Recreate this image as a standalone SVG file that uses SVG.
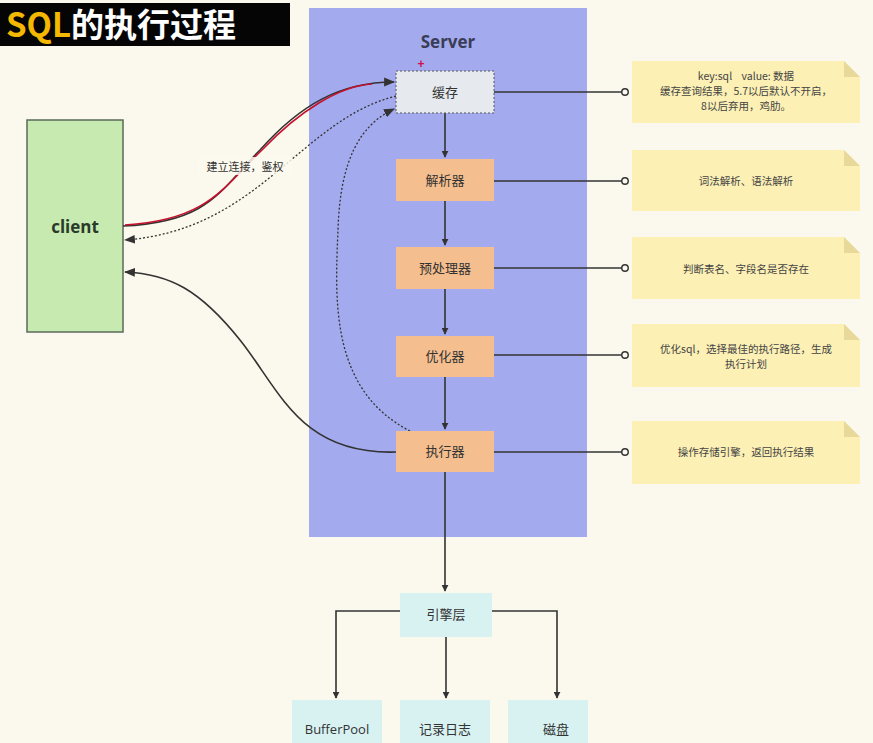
<svg xmlns="http://www.w3.org/2000/svg" width="873" height="743" viewBox="0 0 873 743">
<defs>
<style>
text{font-family:"Noto Sans CJK SC","Liberation Sans",sans-serif;fill:#333;}
.node{fill:#f5be8e;}
.lbl{font-size:13px;text-anchor:middle;}
.note{fill:#fcf0b4;}
.fold{fill:#e8d89a;}
.ntxt{font-size:10.5px;text-anchor:middle;fill:#444;}
.eng{fill:#d8f2f2;}
.ln{fill:none;stroke:#333;stroke-width:1.6;}
.dot{fill:none;stroke:#333;stroke-width:1.3;stroke-dasharray:2 2;}
</style>
<marker id="ah" viewBox="0 0 10 10" refX="9" refY="5" markerWidth="7" markerHeight="7" orient="auto" markerUnits="userSpaceOnUse">
<path d="M0,0 L10,5 L0,10 z" fill="#333"/>
</marker>
<marker id="ah2" viewBox="0 0 10 10" refX="9" refY="5" markerWidth="11" markerHeight="11" orient="auto" markerUnits="userSpaceOnUse">
<path d="M0,1 L10,5 L0,9 z" fill="#333"/>
</marker>
<marker id="oc" viewBox="0 0 10 10" refX="5" refY="5" markerWidth="9" markerHeight="9" markerUnits="userSpaceOnUse">
<circle cx="5" cy="5" r="3.6" fill="#fbf9ed" stroke="#333" stroke-width="1.6"/>
</marker>
</defs>
<rect width="873" height="743" fill="#fbf9ed"/>
<g id="title">
<rect x="0" y="3" width="290" height="43" fill="#050505"/>
<text x="6" y="37" style="font-size:33px;font-weight:bold;fill:#f5b800;font-family:'Noto Sans CJK SC','Liberation Sans',sans-serif">SQL<tspan style="fill:#ffffff">的执行过程</tspan></text>
</g>
<g id="server">
<rect x="309" y="8" width="278" height="529" fill="#a3aaee"/>
<text x="448" y="48" style="font-size:17px;font-weight:bold;text-anchor:middle;fill:#3a3d55;font-family:'Open Sans','Liberation Sans',sans-serif">Server</text>
</g>
<g id="client">
<rect x="27" y="120" width="96" height="212" fill="#c6eab0" stroke="#5a6a5a" stroke-width="1.5"/>
<text x="75" y="233" style="font-size:17px;font-weight:bold;text-anchor:middle;fill:#2a3a2a;font-family:'Open Sans','Liberation Sans',sans-serif">client</text>
</g>
<g id="connectors">
<path class="ln" d="M445,113 V157" marker-end="url(#ah)"/>
<path class="ln" d="M445,201 V245" marker-end="url(#ah)"/>
<path class="ln" d="M445,289 V334" marker-end="url(#ah)"/>
<path class="ln" d="M445,377 V429" marker-end="url(#ah)"/>
<path class="ln" d="M445,472 V591" marker-end="url(#ah)"/>
<path class="ln" d="M400,611 H336 V698" marker-end="url(#ah)"/>
<path class="ln" d="M446,637 V698" marker-end="url(#ah)"/>
<path class="ln" d="M492,611 H557 V698" marker-end="url(#ah)"/>
<path class="ln" d="M494,92 H625" marker-end="url(#oc)"/>
<path class="ln" d="M494,181 H625" marker-end="url(#oc)"/>
<path class="ln" d="M494,268 H625" marker-end="url(#oc)"/>
<path class="ln" d="M494,355 H625" marker-end="url(#oc)"/>
<path class="ln" d="M494,452 H625" marker-end="url(#oc)"/>
<path class="ln" d="M123,226 C210,222 220,190 260,150 C300,105 340,82 394,82" marker-end="url(#ah2)"/>
<path d="M125,225 C210,220 225,185 262,150 C300,110 340,86 372,84" fill="none" stroke="#c8102e" stroke-width="1.6"/>
<path class="dot" d="M396,96 C300,120 260,230 125,240" marker-end="url(#ah2)"/>
<path class="ln" d="M396,452 C300,455 280,390 240,340 C200,290 170,274 125,272" marker-end="url(#ah2)"/>
<path class="dot" d="M410,431 C330,390 335,300 338,230 C340,160 360,125 394,109" marker-end="url(#ah2)"/>
<rect x="198" y="157" width="94" height="18" fill="#fbf9ed" opacity="0.85"/>
<text x="245" y="171" style="font-size:11px;text-anchor:middle">建立连接，鉴权</text>
</g>
<g id="cache">
<rect x="396" y="71" width="98" height="42" fill="#e6eaee" stroke="#555" stroke-width="1" stroke-dasharray="2 2"/>
<text class="lbl" x="445" y="97">缓存</text>
<text x="421" y="68" style="font-size:12px;font-weight:bold;fill:#d0104c;text-anchor:middle;font-family:'Liberation Sans',sans-serif">+</text>
</g>
<g id="parser">
<rect class="node" x="396" y="159" width="98" height="42"/>
<text class="lbl" x="445" y="185">解析器</text>
</g>
<g id="preprocessor">
<rect class="node" x="396" y="247" width="98" height="42"/>
<text class="lbl" x="445" y="273">预处理器</text>
</g>
<g id="optimizer">
<rect class="node" x="396" y="336" width="98" height="41"/>
<text class="lbl" x="445" y="361">优化器</text>
</g>
<g id="executor">
<rect class="node" x="396" y="431" width="98" height="41"/>
<text class="lbl" x="445" y="456">执行器</text>
</g>
<g id="note-cache">
<path class="note" d="M632,61 H844 L860,77 V123 H632 Z"/>
<path class="fold" d="M844,61 L860,77 H844 Z"/>
<text class="ntxt" x="746" y="80">key:sql&#160;&#160;&#160;&#160;value: 数据</text>
<text class="ntxt" x="746" y="95">缓存查询结果，5.7以后默认不开启，</text>
<text class="ntxt" x="746" y="110">8以后弃用，鸡肋。</text>
</g>
<g id="note-parser">
<path class="note" d="M632,150 H844 L860,166 V211 H632 Z"/>
<path class="fold" d="M844,150 L860,166 H844 Z"/>
<text class="ntxt" x="746" y="185">词法解析、语法解析</text>
</g>
<g id="note-preprocessor">
<path class="note" d="M632,237 H844 L860,253 V299 H632 Z"/>
<path class="fold" d="M844,237 L860,253 H844 Z"/>
<text class="ntxt" x="746" y="273">判断表名、字段名是否存在</text>
</g>
<g id="note-optimizer">
<path class="note" d="M632,324 H844 L860,340 V387 H632 Z"/>
<path class="fold" d="M844,324 L860,340 H844 Z"/>
<text class="ntxt" x="746" y="353">优化sql，选择最佳的执行路径，生成</text>
<text class="ntxt" x="746" y="368">执行计划</text>
</g>
<g id="note-executor">
<path class="note" d="M632,421 H844 L860,437 V484 H632 Z"/>
<path class="fold" d="M844,421 L860,437 H844 Z"/>
<text class="ntxt" x="746" y="456">操作存储引擎，返回执行结果</text>
</g>
<g id="engine">
<rect class="eng" x="400" y="593" width="92" height="44"/>
<text class="lbl" x="446" y="619">引擎层</text>
</g>
<g id="bufferpool">
<rect class="eng" x="292" y="700" width="90" height="43"/>
<text class="lbl" x="337" y="734" style="font-family:'Open Sans','Liberation Sans',sans-serif">BufferPool</text>
</g>
<g id="log">
<rect class="eng" x="400" y="700" width="90" height="43"/>
<text class="lbl" x="445" y="734">记录日志</text>
</g>
<g id="disk">
<rect class="eng" x="508" y="700" width="80" height="43"/>
<text class="lbl" x="556" y="734">磁盘</text>
</g>
</svg>
